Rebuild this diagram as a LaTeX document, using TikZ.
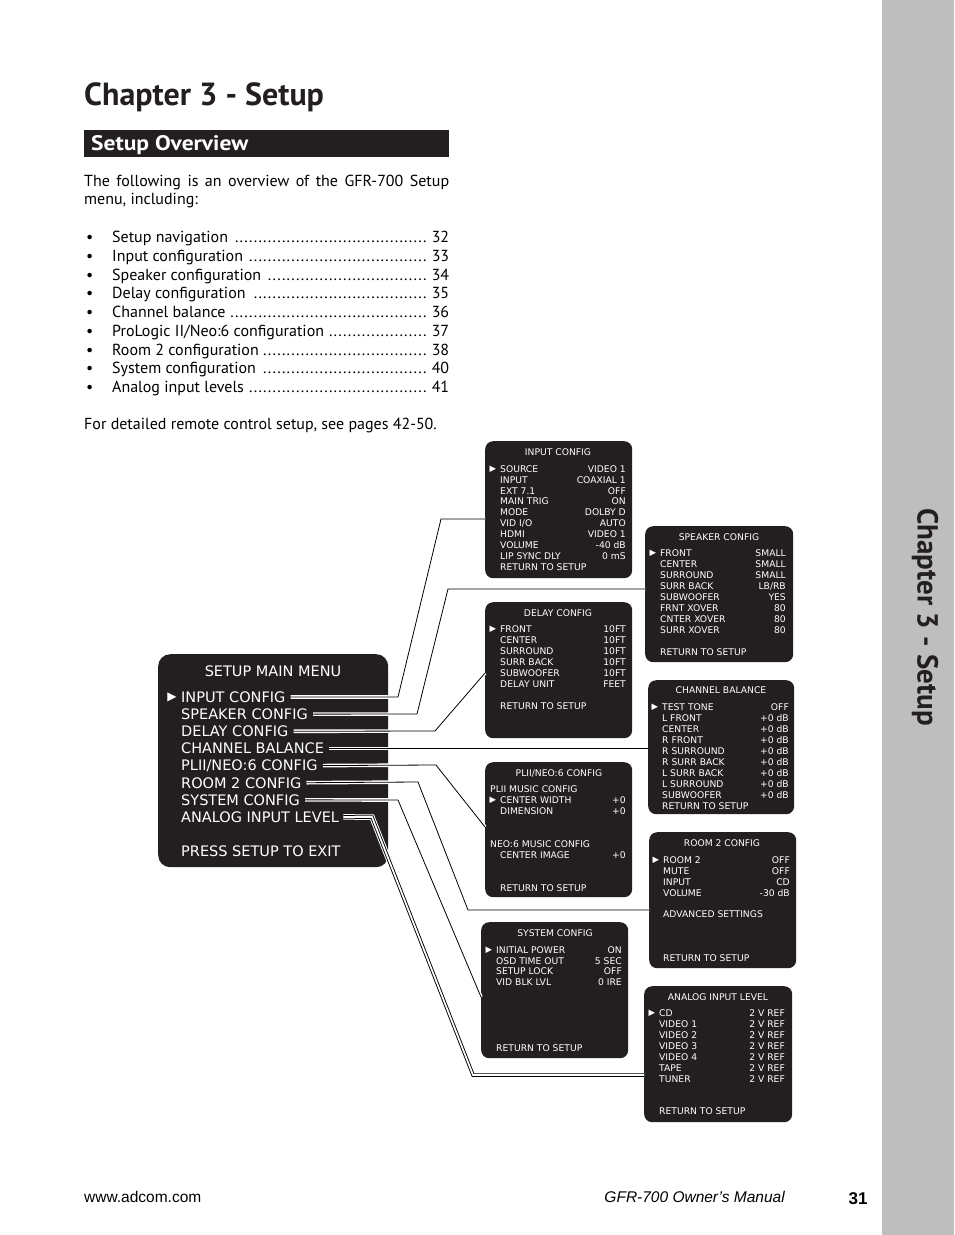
\documentclass[tikz,border=0pt]{standalone}
\usepackage{fontspec}
\setmainfont{PT Sans}
\newfontfamily\widebold{PT Sans}[FakeStretch=1.12]
\newfontfamily\osd{DejaVu Sans}
\newfontfamily\arialf{Liberation Sans}
\definecolor{osdblack}{RGB}{35,31,32}
\definecolor{tabgray}{RGB}{190,190,190}
\newcommand{\leaderdots}{\leaders\hbox to 4.7pt{\hss.\hss}\hfill}
\begin{document}
\begin{tikzpicture}[x=1pt, y=-1pt,
    screen/.style={fill=osdblack, rounded corners=8pt, anchor=north west, inner sep=0pt},
    osdtxt/.style={font=\osd\fontsize{9.2}{11}\selectfont, text=white, inner sep=0pt, text height=6.7pt, text depth=0pt, anchor=west},
    osdval/.style={osdtxt, anchor=east},
    osdhead/.style={osdtxt, anchor=center},
    pick/.style={font=\osd\fontsize{8.5}{9}\selectfont, text=white, inner sep=0pt, anchor=center},
    menutxt/.style={font=\osd\fontsize{14.5}{16}\selectfont, text=white, inner sep=0pt, text height=10.6pt, text depth=0pt, anchor=west},
    lead/.style={draw=black, line width=0.8pt, preaction={draw=white, line width=3.6pt}},
    leadd/.style={draw=black, line width=0.9pt, double=white, double distance=1.7pt, preaction={draw=white, line width=5.5pt}},
    body/.style={font=\fontsize{16}{19}\selectfont, inner sep=0pt, anchor=west, text height=11.2pt, text depth=0pt},
    foot/.style={font=\arialf\fontsize{15.5}{18}\selectfont, inner sep=0pt, text height=11pt, text depth=0pt}]
  \useasboundingbox (0,0) rectangle (954,1235);
  % side tab
  \fill[tabgray] (882,0) rectangle (954,1235);
  \node[rotate=-90, font=\bfseries\fontsize{29}{34}\selectfont, inner sep=0pt, text=osdblack] (tab) at (925,617) {Chapter 3 - Setup};
  % heading and intro text
  \node[anchor=base west, font=\bfseries\fontsize{32}{36}\selectfont, inner sep=0pt, text=osdblack] (title) at (84,105) {Chapter 3 - Setup};
  \fill[osdblack] (84,130) rectangle (449,157);
  \node[anchor=west, font=\widebold\bfseries\fontsize{21}{24}\selectfont, inner sep=0pt, text=white, text height=14.5pt, text depth=0pt] (overview) at (91,143) {Setup Overview};
  \node[body] (intro1) at (84,181) {\makebox[365pt][s]{The following is an overview of the GFR-700 Setup}};
  \node[body] (intro2) at (84,199) {menu, including:};
  \foreach \lab/\pg [count=\i from 0] in {Setup navigation /32,Input configuration /33,
      Speaker configuration /34,Delay configuration /35,Channel balance/36,
      {ProLogic II/Neo:6 configuration}/37,Room 2 configuration/38,
      System configuration /40,Analog input levels/41}{
    \node[body] (dot\i) at (86,237+\i*18.75) {\textbullet};
    \node[body] (item\i) at (112,237+\i*18.75) {\hbox to 337pt{\lab\leaderdots\ \pg}};
  }
  \node[body] (remote) at (84,424) {For detailed remote control setup, see pages 42-50.};
  % footer
  \node[foot, anchor=west] (web) at (84,1197) {www.adcom.com};
  \node[foot, anchor=east] (manual) at (785,1197) {\itshape GFR-700 Owner’s Manual};
  \node[foot, font=\arialf\bfseries\fontsize{17}{20}\selectfont, text height=12.3pt] (pgnum) at (858,1198) {31};

  % main menu screen
  \node[screen, rounded corners=12pt, minimum width=230pt, minimum height=213pt] (sMain) at (158,654) {};
  \node[menutxt, anchor=center] (mHead) at (273,671) {SETUP MAIN MENU};
  \node[pick, font=\osd\fontsize{12}{13}\selectfont] (mPick) at (172,697) {▶};
  \foreach \name/\lab [count=\i from 0] in {mIn/INPUT CONFIG,mSpk/SPEAKER CONFIG,
      mDly/DELAY CONFIG,mBal/CHANNEL BALANCE,mPl/{PLII/NEO:6 CONFIG},
      mRm/ROOM 2 CONFIG,mSys/SYSTEM CONFIG,mAn/ANALOG INPUT LEVEL}
    \node[menutxt] (\name) at (181,697+\i*17.14) {\lab};
  \node[menutxt] (mExit) at (181,851) {PRESS SETUP TO EXIT};

  % input config
  \node[screen, minimum width=147pt, minimum height=137pt] (sIn) at (485,441) {};
  \node[osdhead] (hIn) at (558,452) {INPUT CONFIG};
  \node[pick] (pIn) at (493,469) {▶};
  \foreach \lab/\val [count=\i from 0] in {SOURCE/VIDEO 1,INPUT/COAXIAL 1,EXT 7.1/OFF,
      MAIN TRIG/ON,MODE/DOLBY D,{VID I/O}/AUTO,HDMI/VIDEO 1,VOLUME/-40 dB,LIP SYNC DLY/0 mS}{
    \node[osdtxt] (inL\i) at (500,469+\i*10.875) {\lab};
    \node[osdval] (inV\i) at (626,469+\i*10.875) {\val};
  }
  \node[osdtxt] (inRet) at (500,567) {RETURN TO SETUP};

  % speaker config
  \node[screen, minimum width=148pt, minimum height=136pt] (sSpk) at (645,526) {};
  \node[osdhead] (hSpk) at (719,537) {SPEAKER CONFIG};
  \node[pick] (pSpk) at (653,553) {▶};
  \foreach \lab/\val [count=\i from 0] in {FRONT/SMALL,CENTER/SMALL,SURROUND/SMALL,
      SURR BACK/{LB/RB},SUBWOOFER/YES,FRNT XOVER/80,CNTER XOVER/80,SURR XOVER/80}{
    \node[osdtxt] (spL\i) at (660,553+\i*11) {\lab};
    \node[osdval] (spV\i) at (786,553+\i*11) {\val};
  }
  \node[osdtxt] (spRet) at (660,652) {RETURN TO SETUP};

  % delay config
  \node[screen, minimum width=147pt, minimum height=136pt] (sDly) at (485,602) {};
  \node[osdhead] (hDly) at (558,613) {DELAY CONFIG};
  \node[pick] (pDly) at (493,629) {▶};
  \foreach \lab/\val [count=\i from 0] in {FRONT/10FT,CENTER/10FT,SURROUND/10FT,
      SURR BACK/10FT,SUBWOOFER/10FT,DELAY UNIT/FEET}{
    \node[osdtxt] (dlL\i) at (500,629+\i*11) {\lab};
    \node[osdval] (dlV\i) at (626,629+\i*11) {\val};
  }
  \node[osdtxt] (dlRet) at (500,706) {RETURN TO SETUP};

  % channel balance
  \node[screen, minimum width=146pt, minimum height=134pt] (sBal) at (648,680) {};
  \node[osdhead] (hBal) at (721,690) {CHANNEL BALANCE};
  \node[pick] (pBal) at (655,707) {▶};
  \foreach \lab/\val [count=\i from 0] in {TEST TONE/OFF,L FRONT/+0 dB,CENTER/+0 dB,
      R FRONT/+0 dB,R SURROUND/+0 dB,R SURR BACK/+0 dB,L SURR BACK/+0 dB,
      L SURROUND/+0 dB,SUBWOOFER/+0 dB}{
    \node[osdtxt] (baL\i) at (662,707+\i*11) {\lab};
    \node[osdval] (baV\i) at (789,707+\i*11) {\val};
  }
  \node[osdtxt] (baRet) at (662,806) {RETURN TO SETUP};

  % pl2 / neo:6 config
  \node[screen, minimum width=147pt, minimum height=135pt] (sPl) at (485,762) {};
  \node[osdhead] (hPl) at (559,773) {PLII/NEO:6 CONFIG};
  \node[osdtxt] (plA) at (490,789) {PLII MUSIC CONFIG};
  \node[pick] (pPl) at (493,800) {▶};
  \node[osdtxt] (plL0) at (500,800) {CENTER WIDTH};
  \node[osdval] (plV0) at (626,800) {+0};
  \node[osdtxt] (plL1) at (500,811) {DIMENSION};
  \node[osdval] (plV1) at (626,811) {+0};
  \node[osdtxt] (plB) at (490,844) {NEO:6 MUSIC CONFIG};
  \node[osdtxt] (plL2) at (500,855) {CENTER IMAGE};
  \node[osdval] (plV2) at (626,855) {+0};
  \node[osdtxt] (plRet) at (500,888) {RETURN TO SETUP};

  % room 2 config
  \node[screen, minimum width=147pt, minimum height=136pt] (sRm) at (649,832) {};
  \node[osdhead] (hRm) at (722,843) {ROOM 2 CONFIG};
  \node[pick] (pRm) at (656,860) {▶};
  \foreach \lab/\val [count=\i from 0] in {ROOM 2/OFF,MUTE/OFF,INPUT/CD,VOLUME/-30 dB}{
    \node[osdtxt] (rmL\i) at (663,860+\i*11) {\lab};
    \node[osdval] (rmV\i) at (790,860+\i*11) {\val};
  }
  \node[osdtxt] (rmAdv) at (663,914) {ADVANCED SETTINGS};
  \node[osdtxt] (rmRet) at (663,958) {RETURN TO SETUP};

  % system config
  \node[screen, minimum width=147pt, minimum height=136pt] (sSys) at (481,922) {};
  \node[osdhead] (hSys) at (555,933) {SYSTEM CONFIG};
  \node[pick] (pSys) at (489,950) {▶};
  \foreach \lab/\val [count=\i from 0] in {INITIAL POWER/ON,OSD TIME OUT/5 SEC,
      SETUP LOCK/OFF,VID BLK LVL/0 IRE}{
    \node[osdtxt] (syL\i) at (496,950+\i*10.7) {\lab};
    \node[osdval] (syV\i) at (622,950+\i*10.7) {\val};
  }
  \node[osdtxt] (syRet) at (496,1048) {RETURN TO SETUP};

  % analog input level
  \node[screen, minimum width=148pt, minimum height=136pt] (sAn) at (644,986) {};
  \node[osdhead] (hAn) at (718,997) {ANALOG INPUT LEVEL};
  \node[pick] (pAn) at (652,1013) {▶};
  \foreach \lab/\val [count=\i from 0] in {CD/2 V REF,VIDEO 1/2 V REF,VIDEO 2/2 V REF,
      VIDEO 3/2 V REF,VIDEO 4/2 V REF,TAPE/2 V REF,TUNER/2 V REF}{
    \node[osdtxt] (anL\i) at (659,1013+\i*11) {\lab};
    \node[osdval] (anV\i) at (785,1013+\i*11) {\val};
  }
  \node[osdtxt] (anRet) at (659,1111) {RETURN TO SETUP};

  % bends of the connectors
  \coordinate (a1) at (398,697);  \coordinate (a2) at (441,519);
  \coordinate (b1) at (417,714);  \coordinate (b2) at (448,589);
  \coordinate (c1) at (435,731);  \coordinate (c2) at (485,673);
  \coordinate (d1) at (436,765);  \coordinate (d2) at (485,827);
  \coordinate (e1) at (418,782);  \coordinate (e2) at (468,910);
  \coordinate (f1) at (398,800);  \coordinate (f2) at (481,997);
  \coordinate (g1) at (372,817);  \coordinate (g2) at (473,1075);
  % menu entries to their screens
  \draw[lead] ([xshift=5pt]mIn.east) -- (a1) -- (a2) -- (sIn.west |- a2);
  \draw[lead] ([xshift=5pt]mSpk.east) -- (b1) -- (b2) -- (sSpk.west |- b2);
  \draw[lead] ([xshift=5pt]mDly.east) -- (c1) -- (sDly.west |- c2);
  \draw[lead] ([xshift=5pt]mBal.east) -- (sBal.west |- mBal.east);
  \draw[lead] ([xshift=5pt]mPl.east) -- (d1) -- (sPl.west |- d2);
  \draw[lead] ([xshift=5pt]mRm.east) -- (e1) -- (e2) -- (sRm.west |- e2);
  \draw[lead] ([xshift=5pt]mSys.east) -- (f1) -- (sSys.west |- f2);
  \draw[leadd] ([xshift=4pt]mAn.east) -- (g1) -- (g2) -- (sAn.west |- g2);
\end{tikzpicture}
\end{document}
